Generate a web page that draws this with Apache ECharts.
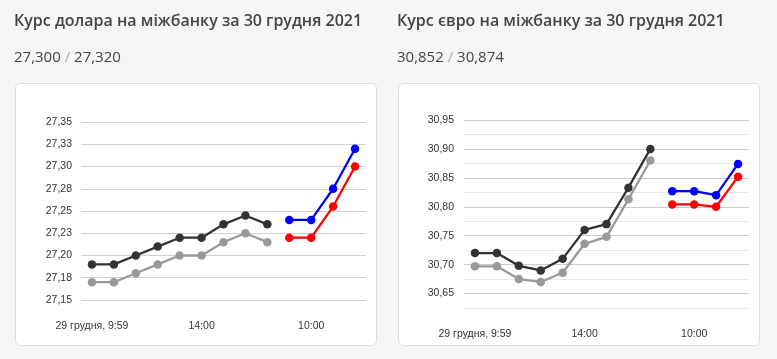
<!DOCTYPE html>
<html>
<head>
<meta charset="utf-8">
<script src="https://cdn.jsdelivr.net/npm/echarts@6/dist/echarts.min.js"></script>
<style>
html,body{margin:0;padding:0;background:#f6f6f6;}
#c{width:777px;height:359px;}
</style>
</head>
<body>
<div id="c"></div>
<script>
// Categories (hourly points, 29 Dec 9:59 .. 30 Dec)
const categories = ['29 грудня, 9:59','11:00','12:00','13:00','13:30','14:00','15:00','16:00','17:00','9:00','10:00','11:00','12:00'];
const shownLabelIdx = [0, 5, 10];

// USD (left)
const usdBuyPrev  = [27.19, 27.19, 27.20, 27.21, 27.22, 27.22, 27.235, 27.245, 27.235, null, null, null, null];
const usdSellPrev = [27.17, 27.17, 27.18, 27.19, 27.20, 27.20, 27.215, 27.225, 27.215, null, null, null, null];
const usdSell     = [null, null, null, null, null, null, null, null, null, 27.24, 27.24, 27.275, 27.32];
const usdBuy      = [null, null, null, null, null, null, null, null, null, 27.22, 27.22, 27.255, 27.30];

// EUR (right)
const eurBuyPrev  = [30.72, 30.72, 30.698, 30.69, 30.71, 30.76, 30.77, 30.833, 30.90, null, null, null, null];
const eurSellPrev = [30.697, 30.697, 30.675, 30.67, 30.686, 30.736, 30.748, 30.813, 30.88, null, null, null, null];
const eurSell     = [null, null, null, null, null, null, null, null, null, 30.827, 30.827, 30.82, 30.874];
const eurBuy      = [null, null, null, null, null, null, null, null, null, 30.804, 30.804, 30.80, 30.852];

const titles = ['Курс долара на міжбанку за 30 грудня 2021', 'Курс євро на міжбанку за 30 грудня 2021'];
const rateTexts = [['27,300', '27,320'], ['30,852', '30,874']];

const fmt2 = v => (Math.round(v * 100 + 1e-6) / 100).toFixed(2).replace('.', ',');

const chart = echarts.init(document.getElementById('c'), null, {renderer: 'canvas'});

function xAxis(gi) {
  return {
    type: 'category', gridIndex: gi, data: categories, boundaryGap: true,
    axisLine: {show: false}, axisTick: {show: false},
    axisLabel: {
      interval: (i) => shownLabelIdx.indexOf(i) >= 0,
      color: '#333', fontSize: 10.5, fontFamily: 'Liberation Sans, Arial', margin: 21
    }
  };
}

function mkSeries(data, color, gi) {
  return {
    type: 'line', xAxisIndex: gi, yAxisIndex: gi, data: data,
    symbol: 'circle', symbolSize: 8.5, connectNulls: false,
    lineStyle: {color: color, width: 2.3}, itemStyle: {color: color},
    animation: false
  };
}

const titleStyle = {fontFamily: 'Open Sans', fontWeight: 600, fontSize: 16, color: '#444'};
const richStyle = {
  a: {fontFamily: 'Open Sans', fontWeight: 'normal', fontSize: 15, color: '#444'},
  s: {fontFamily: 'Open Sans', fontWeight: 'normal', fontSize: 15, color: '#aaa'}
};

const option = {
  animation: false,
  title: [
    {text: titles[0], left: 14, top: 13, padding: 0, textStyle: titleStyle},
    {text: titles[1], left: 397, top: 13, padding: 0, textStyle: titleStyle},
    {text: '{a|' + rateTexts[0][0] + '}{s| / }{a|' + rateTexts[0][1] + '}', left: 14, top: 50, padding: 0,
      textStyle: {fontWeight: 'normal', rich: richStyle}},
    {text: '{a|' + rateTexts[1][0] + '}{s| / }{a|' + rateTexts[1][1] + '}', left: 397, top: 50, padding: 0,
      textStyle: {fontWeight: 'normal', rich: richStyle}}
  ],
  graphic: [
    {type: 'rect', shape: {x: 15.5, y: 83.5, width: 361, height: 262, r: 5}, style: {fill: '#fff', stroke: '#dcdcdc', lineWidth: 1}, z: -10},
    {type: 'rect', shape: {x: 398.5, y: 83.5, width: 361, height: 262, r: 5}, style: {fill: '#fff', stroke: '#dcdcdc', lineWidth: 1}, z: -10}
  ],
  grid: [
    {left: 81, right: 777 - 366, top: 122, height: 178},
    {left: 464, right: 777 - 749, top: 120, height: 188}
  ],
  xAxis: [xAxis(0), xAxis(1)],
  yAxis: [
    {type: 'value', gridIndex: 0, min: 27.15, max: 27.35, interval: 0.025,
      axisLine: {show: false}, axisTick: {show: false},
      axisLabel: {formatter: fmt2, color: '#333', fontSize: 10.5, fontFamily: 'Liberation Sans, Arial', margin: 9},
      splitLine: {lineStyle: {color: '#d0d0d0', width: 1}}},
    {type: 'value', gridIndex: 1, min: 30.625, max: 30.95, interval: 0.025,
      axisLine: {show: false}, axisTick: {show: false},
      axisLabel: {
        formatter: (v) => (Math.abs(Math.round(v * 1000) % 50) === 0 ? fmt2(v) : ''),
        color: '#333', fontSize: 10.5, fontFamily: 'Liberation Sans, Arial', margin: 10},
      splitLine: {lineStyle: {color: ['#e8e8e8', '#cccccc'], width: 1}}}
  ],
  series: [
    mkSeries(usdSellPrev, '#999999', 0),
    mkSeries(usdBuyPrev, '#333333', 0),
    mkSeries(usdSell, '#0000ff', 0),
    mkSeries(usdBuy, '#ff0000', 0),
    mkSeries(eurSellPrev, '#999999', 1),
    mkSeries(eurBuyPrev, '#333333', 1),
    mkSeries(eurSell, '#0000ff', 1),
    mkSeries(eurBuy, '#ff0000', 1)
  ]
};
chart.setOption(option);
</script>
</body>
</html>
